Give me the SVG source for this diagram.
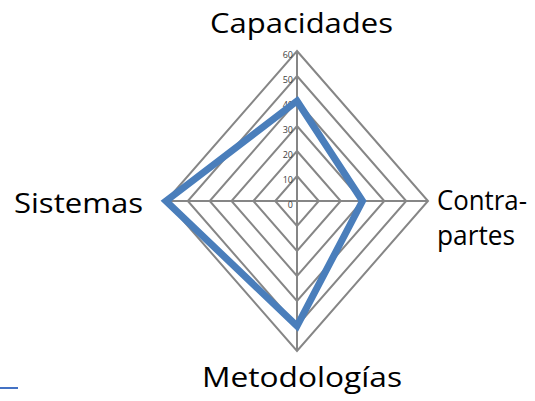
<svg xmlns="http://www.w3.org/2000/svg" width="535" height="401" viewBox="0 0 535 401">
<style>
.grid{fill:none;stroke:#868686;stroke-width:2}
.axis{stroke:#868686;stroke-width:2}
.tick{font-family:"Open Sans","Liberation Sans",sans-serif;font-size:9px;fill:#404040;text-anchor:end}
.lbl{font-family:"Open Sans","Liberation Sans",sans-serif;font-size:28px;fill:#000}
.series{fill:none;stroke:#4A7EBB;stroke-width:7;stroke-linejoin:miter}
</style>
<rect width="535" height="401" fill="#fff"/>
<g id="grid">
<polygon class="grid" points="297,176 318.8,201 297,226 275.2,201"/>
<polygon class="grid" points="297,151 340.7,201 297,251 253.3,201"/>
<polygon class="grid" points="297,126 362.5,201 297,276 231.5,201"/>
<polygon class="grid" points="297,101 384.3,201 297,301 209.7,201"/>
<polygon class="grid" points="297,76 406.2,201 297,326 187.8,201"/>
<polygon class="grid" points="297,51 428,201 297,351 166,201"/>
<line class="axis" x1="297" y1="51" x2="297" y2="351"/>
<line class="axis" x1="166" y1="201" x2="428" y2="201"/>
</g>
<g id="ticks">
<text class="tick" x="293" y="208">0</text>
<text class="tick" x="293" y="183">10</text>
<text class="tick" x="293" y="158">20</text>
<text class="tick" x="293" y="133">30</text>
<text class="tick" x="293" y="108">40</text>
<text class="tick" x="293" y="83">50</text>
<text class="tick" x="293" y="58">60</text>
</g>
<g id="connectors">
<polygon class="series" points="297,101 362.5,201 297,326 166,201"/>
</g>
<g id="capacidades"><text class="lbl" x="210" y="33" textLength="183" lengthAdjust="spacingAndGlyphs">Capacidades</text></g>
<g id="sistemas"><text class="lbl" x="14" y="213" textLength="129" lengthAdjust="spacingAndGlyphs">Sistemas</text></g>
<g id="contrapartes">
<text class="lbl" x="437" y="210" textLength="90" lengthAdjust="spacingAndGlyphs">Contra-</text>
<text class="lbl" x="437" y="245" textLength="78" lengthAdjust="spacingAndGlyphs">partes</text>
</g>
<g id="metodologias"><text class="lbl" x="202" y="387" textLength="200" lengthAdjust="spacingAndGlyphs">Metodologías</text></g>
<line x1="0" y1="388" x2="18" y2="388" stroke="#4472C4" stroke-width="2"/>
</svg>
